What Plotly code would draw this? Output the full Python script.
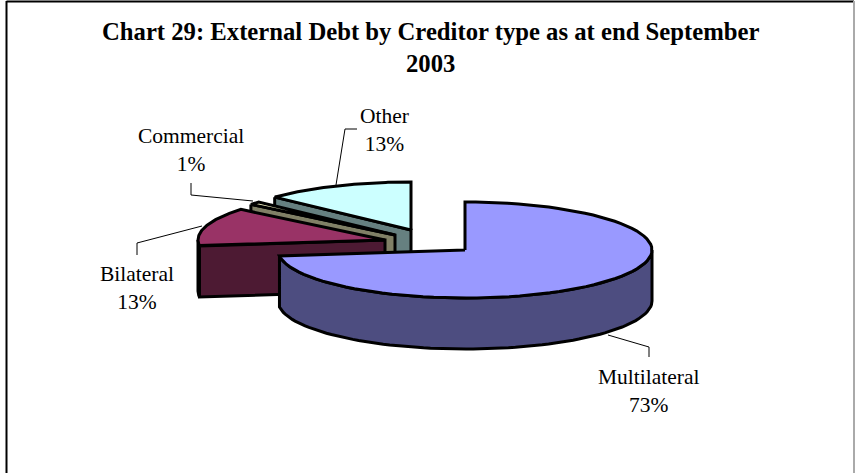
import numpy as np
import plotly.graph_objects as go

# Creditor shares of external debt, percent
creditors = ["Other", "Commercial", "Bilateral", "Multilateral"]
shares = [13, 1, 13, 73]
top_colors = ["#CCFFFF", "#FFFFCC", "#993366", "#9999FF"]
side_colors = ["#668080", "#808066", "#4D1A33", "#4D4D80"]

# Exploded slice centres on the canvas, and the pie's projected shape
centres = {
    "Other": (411, 230),
    "Commercial": (395, 235),
    "Bilateral": (385, 240),
    "Multilateral": (465, 250),
}
RX, RY, DEPTH = 187, 48, 51
W, H = 855, 473

# Clockwise angles from 12 o'clock, Multilateral first
order = ["Multilateral", "Bilateral", "Commercial", "Other"]
share_of = dict(zip(creditors, shares))
spans = {}
start = 0.0
for name in order:
    spans[name] = (start, start + share_of[name] * 3.6)
    start += share_of[name] * 3.6


def rim(name, a, b, n=80):
    t = np.radians(np.linspace(a, b, n))
    cx, cy = centres[name]
    return cx + RX * np.sin(t), cy - RY * np.cos(t)


def poly(fig, xs, ys, color):
    fig.add_trace(go.Scatter(
        x=np.r_[xs, xs[0]], y=np.r_[ys, ys[0]], mode="lines", fill="toself",
        fillcolor=color, line=dict(color="black", width=3),
        hoverinfo="skip", showlegend=False,
    ))


fig = go.Figure()

# Painted back to front
for name, top, side in zip(creditors, top_colors, side_colors):
    a, b = spans[name]
    cx, cy = centres[name]
    if name != "Multilateral":
        ex, ey = rim(name, a, a, 1)
        poly(fig, [ex[0], cx, cx, ex[0]], [ey[0], cy, cy + DEPTH, ey[0] + DEPTH], side)
    lo, hi = max(a, 90), min(b, 270)
    if lo < hi:
        ax, ay = rim(name, lo, hi)
        poly(fig, np.r_[ax, ax[::-1]], np.r_[ay, ay[::-1] + DEPTH], side)
    rx, ry = rim(name, a, b)
    poly(fig, np.r_[cx, rx], np.r_[cy, ry], top)

# Leader lines from each slice to its label
leaders = {
    "Other": ([336, 345, 357], [185, 129, 129]),
    "Commercial": ([253, 191, 191], [201, 195, 183]),
    "Bilateral": ([202, 137, 137], [226, 243, 255]),
    "Multilateral": ([608, 649, 649], [335, 347, 357]),
}
for name in creditors:
    lx, ly = leaders[name]
    fig.add_trace(go.Scatter(x=lx, y=ly, mode="lines", line=dict(color="black", width=1),
                             hoverinfo="skip", showlegend=False))

label_pos = {
    "Other": (384, 130),
    "Commercial": (191, 150),
    "Bilateral": (137, 288),
    "Multilateral": (649, 391),
}
annotations = [
    dict(x=label_pos[n][0], y=label_pos[n][1], text=f"{n}<br>{share_of[n]}%", showarrow=False,
         font=dict(family="Liberation Serif", size=21.5, color="black"), xref="x", yref="y")
    for n in creditors
]
annotations.append(dict(
    x=430.5, y=47.5, xref="x", yref="y", showarrow=False,
    text="<b>Chart 29: External Debt by Creditor type as at end September<br>2003</b>",
    font=dict(family="Liberation Serif", size=24.7, color="black"),
))

fig.update_layout(
    width=W, height=H, margin=dict(l=0, r=0, t=0, b=0),
    paper_bgcolor="white", plot_bgcolor="white", showlegend=False,
    xaxis=dict(range=[0, W], visible=False, fixedrange=True),
    yaxis=dict(range=[H, 0], visible=False, fixedrange=True),
    annotations=annotations,
    shapes=[
        dict(type="line", x0=6.5, y0=1.5, x1=854, y1=1.5, line=dict(color="black", width=2)),
        dict(type="line", x0=6.5, y0=1, x1=6.5, y1=H, line=dict(color="black", width=2)),
        dict(type="line", x0=854, y0=1, x1=854, y1=H, line=dict(color="#AAAAAA", width=2)),
    ],
)
fig.write_html("out.html", config={"displayModeBar": False})
